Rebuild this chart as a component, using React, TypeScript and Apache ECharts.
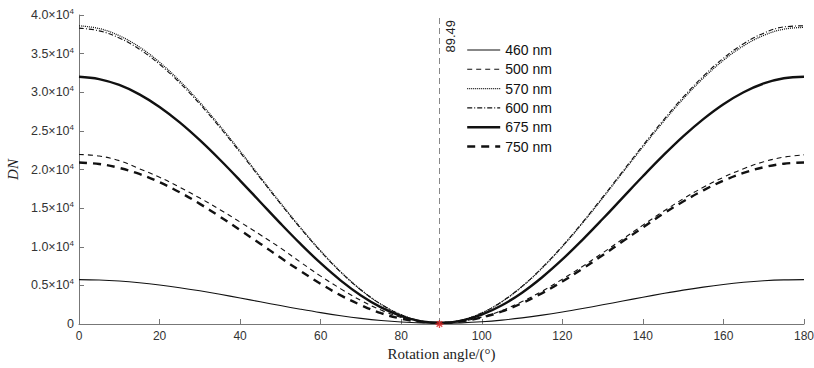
import React, { useEffect, useRef } from "react";
import * as echarts from "echarts";

const angles = [0, 5, 10, 15, 20, 25, 30, 35, 40, 45, 50, 55, 60, 65, 70, 75, 80, 85, 90, 95, 100, 105, 110, 115, 120, 125, 130, 135, 140, 145, 150, 155, 160, 165, 170, 175, 180];

const dn460 = [5750, 5698, 5562, 5347, 5057, 4702, 4294, 3845, 3367, 2875, 2384, 1912, 1469, 1071, 729, 454, 254, 134, 101, 152, 288, 504, 793, 1148, 1556, 2006, 2484, 2976, 3466, 3938, 4382, 4779, 5121, 5396, 5596, 5716, 5749];
const dn500 = [21950, 21750, 21150, 20100, 19000, 17700, 16300, 14800, 13200, 11550, 9850, 8000, 6200, 4550, 3050, 1800, 850, 300, 150, 350, 900, 1750, 2900, 4250, 5800, 7450, 9200, 11000, 12800, 14550, 16200, 17700, 19000, 20100, 21000, 21600, 21900];
const dn570 = [38600, 38246, 37320, 35855, 33882, 31471, 28691, 25635, 22386, 19033, 15695, 12481, 9466, 6756, 4430, 2557, 1196, 385, 154, 502, 1424, 2885, 4843, 7245, 10007, 13052, 16288, 19619, 22935, 26133, 29140, 31825, 34143, 36006, 37360, 38167, 38396];
const dn600 = [38300, 37949, 37030, 35576, 33619, 31227, 28469, 25436, 22212, 18885, 15574, 12385, 9394, 6704, 4396, 2538, 1188, 383, 154, 505, 1434, 2906, 4880, 7301, 10084, 13153, 16414, 19772, 23114, 26337, 29367, 32073, 34409, 36287, 37651, 38465, 38600];
const dn675 = [32000, 31707, 30939, 29726, 28092, 26095, 23792, 21260, 18569, 15792, 13027, 10364, 7867, 5622, 3695, 2144, 1016, 344, 153, 443, 1211, 2427, 4058, 6058, 8358, 10893, 13587, 16362, 19123, 21786, 24289, 26525, 28455, 30006, 31134, 31806, 31997];
const dn750 = [20900, 20710, 20210, 19420, 18350, 17050, 15550, 13900, 12150, 10400, 8600, 6850, 5200, 3700, 2450, 1400, 700, 280, 150, 340, 840, 1630, 2700, 4000, 5500, 7150, 8900, 10700, 12500, 14250, 15850, 17300, 18550, 19550, 20300, 20750, 20900];

const seriesNames = ["460 nm", "500 nm", "570 nm", "600 nm", "675 nm", "750 nm"];
const minAngle = 89.49;
const minValue = 0;

const xTicks = [0, 20, 40, 60, 80, 100, 120, 140, 160, 180];

export default function App() {
  const ref = useRef<HTMLDivElement>(null);
  useEffect(() => {
    document.body.style.margin = "0";
    const chart = echarts.init(ref.current!, null, { renderer: "svg" });
    const pair = (arr: number[]) => angles.map((a, i) => [a, arr[i]]);
    const styles: any[] = [
      { width: 1.1, type: "solid" },
      { width: 1.1, type: [5, 4] },
      { width: 1.3, type: [1, 1] },
      { width: 1.1, type: [5, 2, 1, 2] },
      { width: 2.4, type: "solid" },
      { width: 2.4, type: [8, 6] },
    ];
    const allData = [dn460, dn500, dn570, dn600, dn675, dn750];
    const series: any[] = allData.map((d, i) => ({
      name: seriesNames[i],
      type: "line",
      data: pair(d),
      smooth: 0.4,
      showSymbol: false,
      symbol: "none",
      lineStyle: { color: "#111", ...styles[i] },
      itemStyle: { color: "#111" },
      z: 3,
    }));
    series.push({
      name: "min",
      type: "scatter",
      data: [[minAngle, minValue]],
      symbol: "path://M5 0 L5 10 M0 5 L10 5 M1.5 1.5 L8.5 8.5 M8.5 1.5 L1.5 8.5",
      symbolSize: 8,
      itemStyle: { color: "none", borderColor: "#e02020", borderWidth: 1.3 },
      z: 5,
      markLine: {
        silent: true,
        symbol: "none",
        lineStyle: { color: "#888", type: [6, 4], width: 1 },
        label: {
          show: true,
          formatter: String(minAngle),
          position: "insideEndBottom",
          color: "#222",
          fontSize: 13,
          fontFamily: "Liberation Sans, Arial, sans-serif",
        },
        data: [{ xAxis: minAngle }],
      },
    });
    chart.setOption({
      animation: false,
      backgroundColor: "#fff",
      grid: { left: 79, right: 10, top: 15, bottom: 44, outerBoundsMode: "none", containLabel: false },
      legend: {
        data: seriesNames.map((n, i) => ({
          name: n,
          itemStyle: { opacity: 0 },
          lineStyle: { color: "#111", width: styles[i].width, type: styles[i].type },
        })),
        orient: "vertical",
        left: 461,
        top: 38,
        itemWidth: 33,
        itemHeight: 14,
        itemGap: 5.3,
        itemStyle: { opacity: 0 },
        textStyle: { fontSize: 14, color: "#111", fontFamily: "Liberation Sans, Arial, sans-serif" },
      },
      xAxis: {
        type: "value",
        min: 0,
        max: 180,
        interval: 20,
        name: "Rotation angle/(°)",
        nameLocation: "middle",
        nameGap: 21,
        nameTextStyle: { fontSize: 15, color: "#222", fontFamily: "Liberation Serif, Times New Roman, serif" },
        axisLine: { lineStyle: { color: "#777", width: 1 } },
        axisTick: { inside: true, length: 5, lineStyle: { color: "#777" } },
        axisLabel: {
          fontSize: 12,
          color: "#333",
          margin: 6,
          fontFamily: "Liberation Sans, Arial, sans-serif",
          customValues: xTicks,
        },
        splitLine: { show: false },
      },
      yAxis: {
        type: "value",
        min: 0,
        max: 40000,
        interval: 5000,
        name: "DN",
        nameLocation: "middle",
        nameGap: 42,
        nameTextStyle: { fontSize: 15, fontStyle: "italic", color: "#222", fontFamily: "Liberation Serif, Times New Roman, serif" },
        axisLine: { show: true, lineStyle: { color: "#777", width: 1 } },
        axisTick: { show: true, inside: true, length: 5, lineStyle: { color: "#777" } },
        axisLabel: {
          margin: 5,
          color: "#333",
          fontFamily: "Liberation Sans, Arial, sans-serif",
          formatter: (v: number) => (v === 0 ? "{a|0}" : "{a|" + (v / 10000).toFixed(1) + "×10}{s|4}"),
          rich: {
            a: { fontSize: 12.5, color: "#333", fontFamily: "Liberation Sans, Arial, sans-serif" },
            s: { fontSize: 8, color: "#333", verticalAlign: "top", padding: [0, 0, 7, 0], fontFamily: "Liberation Sans, Arial, sans-serif" },
          },
        },
        splitLine: { show: false },
      },
      series,
    });
    return () => chart.dispose();
  }, []);
  return <div ref={ref} style={{ width: 814, height: 368 }} />;
}
